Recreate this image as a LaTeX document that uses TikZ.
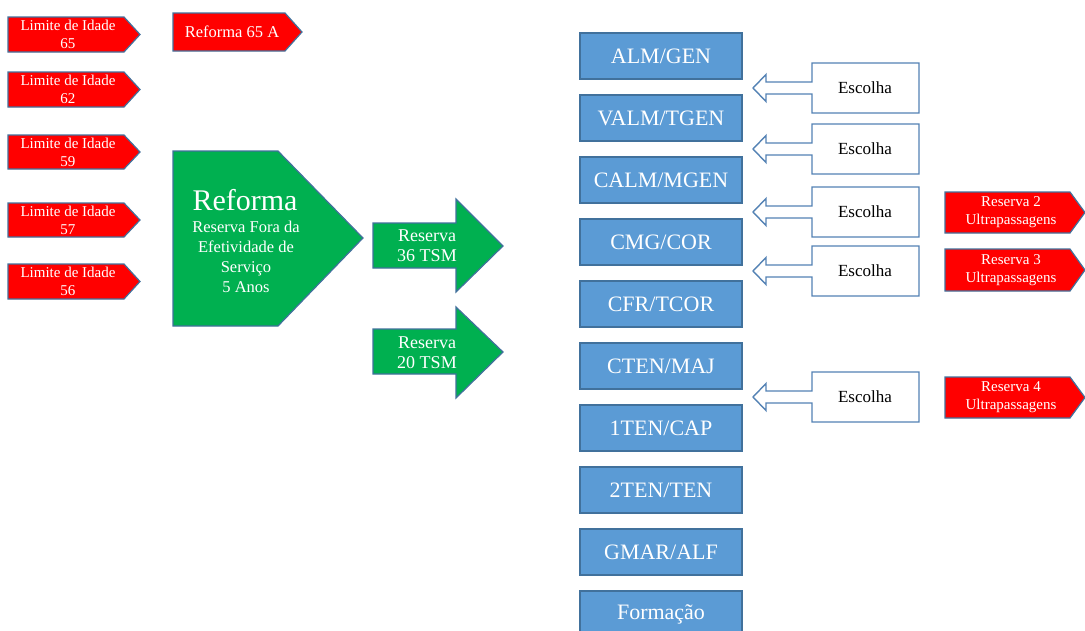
\documentclass[tikz,border=0pt]{standalone}
\usepackage{fontspec}
\setmainfont{Liberation Serif}
\definecolor{edgeblue}{RGB}{65,113,156}
\definecolor{lightedge}{RGB}{84,130,180}
\definecolor{boxblue}{RGB}{91,155,213}
\definecolor{ggreen}{RGB}{0,176,80}
\definecolor{rred}{RGB}{255,0,0}
\tikzset{
  redtag/.style={fill=rred, draw=edgeblue, line width=1.2pt, line join=miter},
  greenshape/.style={fill=ggreen, draw=edgeblue, line width=1.2pt},
  rankbox/.style={fill=boxblue, draw=edgeblue, line width=1.4pt},
  callout/.style={fill=white, draw=lightedge, line width=1.4pt},
  wtext/.style={text=white, align=center, inner sep=0pt},
  btext/.style={text=black, align=center, inner sep=0pt},
}
\newcommand\fs[2]{\rmfamily\fontsize{#1}{#2}\selectfont}
\begin{document}
\begin{tikzpicture}[x=1pt,y=-1pt]
\useasboundingbox (0,0) rectangle (1085,630);
\clip (0,0) rectangle (1085,630);
\fill[white] (0,0) rectangle (1085,630);

% left red tags
\foreach \t/\b/\n/\nm in {17/52/65/l65, 72/107/62/l62, 135/169/59/l59, 203/237/57/l57, 264/299/56/l56}{
  \draw[redtag] (8,\t) -- (124,\t) -- (140,{(\t+\b)/2}) -- (124,\b) -- (8,\b) -- cycle;
  \node[wtext, font=\fs{15}{18}] (\nm) at (68,{(\t+\b)/2}) {Limite de Idade\\\n};
}
\draw[redtag] (173,13) -- (285,13) -- (302,32) -- (285,51) -- (173,51) -- cycle;
\node[wtext, font=\fs{16.5}{18}] (r65) at (232,32) {Reforma 65 A};

% big green pentagon
\draw[greenshape] (173,151) -- (278,151) -- (363,238) -- (278,326) -- (173,326) -- cycle;
\node[wtext, font=\fs{30}{32}] (ref) at (245,200) {Reforma};
\node[wtext, font=\fs{16.5}{20}] (refsub) at (246,257) {Reserva Fora da\\Efetividade de\\Serviço\\5 Anos};

% green arrows
\draw[greenshape] (373,223) -- (456,223) -- (456,199) -- (503,246) -- (456,292) -- (456,268) -- (373,268) -- cycle;
\node[wtext, font=\fs{18}{20}] (r36) at (427,246) {Reserva\\36 TSM};
\draw[greenshape] (373,329) -- (456,329) -- (456,307) -- (503,352) -- (456,398) -- (456,374) -- (373,374) -- cycle;
\node[wtext, font=\fs{18}{20}] (r20) at (427,353) {Reserva\\20 TSM};

% blue rank boxes
\foreach \lab [count=\i from 0] in {ALM/GEN, VALM/TGEN, CALM/MGEN, CMG/COR, CFR/TCOR, CTEN/MAJ, 1TEN/CAP, 2TEN/TEN, GMAR/ALF, Formação}{
  \draw[rankbox] (580,{33+62*\i}) rectangle (742,{79+62*\i});
  \node[wtext, font=\fs{22}{24}] (rank\i) at (661,{56+62*\i}) {\lab};
}

% Escolha callouts
\foreach \t [count=\i] in {63,124,187,246,372}{
  \pgfmathsetmacro\c{\t+25}
  \pgfmathsetmacro\bt{\t+50}
  \draw[callout] (919,\t) -- (919,\bt) -- (812,\bt) -- (812,\c+6) -- (766,\c+6) -- (766,\c+13.5) -- (753,\c) -- (766,\c-13.5) -- (766,\c-6) -- (812,\c-6) -- (812,\t) -- cycle;
  \node[btext, font=\fs{17}{18}] (esc\i) at (865,\c) {Escolha};
}

% right red tags
\foreach \t/\b/\n in {192/233/2, 249/291/3, 377/418/4}{
  \draw[redtag] (945,\t) -- (1070,\t) -- (1085,{(\t+\b)/2}) -- (1070,\b) -- (945,\b) -- cycle;
  \node[wtext, font=\fs{15}{18}] (res\n) at (1011,{(\t+\b)/2}) {Reserva \n\\Ultrapassagens};
}
\end{tikzpicture}
\end{document}
